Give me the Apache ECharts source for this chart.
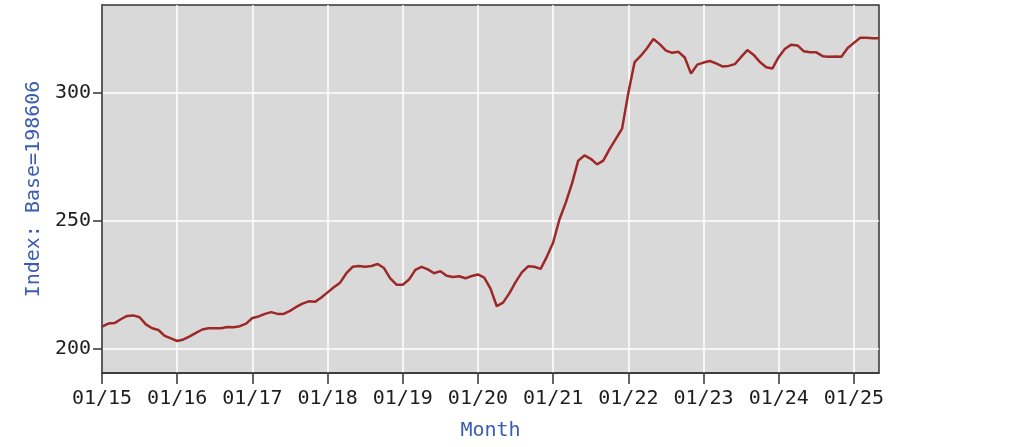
<!DOCTYPE html>
<html>
<head>
<meta charset="utf-8">
<script src="https://cdn.jsdelivr.net/npm/echarts@6/dist/echarts.min.js"></script>
<style>
  html, body { margin: 0; padding: 0; background: #fff; }
  #chart { width: 1024px; height: 447px; }
</style>
</head>
<body>
<div id="chart"></div>
<script>
// Monthly index values, Jan..Dec per year (2025 ends in May)
var v2015 = [208.6, 209.8, 210.0, 211.5, 212.8, 213.0, 212.3, 209.5, 208.0, 207.3, 205.0, 204.0];
var v2016 = [203.0, 203.6, 204.8, 206.2, 207.5, 208.0, 208.0, 208.0, 208.5, 208.4, 208.8, 209.8];
var v2017 = [212.0, 212.6, 213.6, 214.3, 213.6, 213.6, 214.8, 216.3, 217.6, 218.5, 218.3, 220.0];
var v2018 = [222.0, 224.0, 225.8, 229.5, 232.0, 232.3, 232.0, 232.3, 233.1, 231.5, 227.5, 225.0];
var v2019 = [225.0, 227.0, 230.8, 232.0, 231.0, 229.5, 230.3, 228.5, 228.0, 228.3, 227.5, 228.4];
var v2020 = [229.0, 227.8, 223.5, 216.6, 218.0, 221.6, 226.0, 229.8, 232.2, 232.0, 231.2, 236.0];
var v2021 = [241.5, 250.5, 257.0, 264.5, 273.5, 275.5, 274.2, 272.0, 273.5, 278.0, 282.0, 286.0];
var v2022 = [300.0, 312.0, 314.5, 317.5, 321.0, 319.0, 316.5, 315.6, 316.0, 313.8, 307.5, 311.0];
var v2023 = [311.8, 312.4, 311.5, 310.3, 310.5, 311.2, 314.0, 316.7, 314.8, 312.0, 310.0, 309.5];
var v2024 = [314.0, 317.2, 318.8, 318.5, 316.2, 315.8, 315.8, 314.3, 314.1, 314.2, 314.1, 317.5];
var v2025 = [319.5, 321.5, 321.5, 321.3, 321.3];

var yTicks = [200, 250, 300];
var firstYear = 2015;

var values = [].concat(v2015, v2016, v2017, v2018, v2019, v2020, v2021, v2022, v2023, v2024, v2025);

// month labels "MM/YY"
var months = [];
for (var i = 0; i < values.length; i++) {
  var mm = (i % 12) + 1;
  var yy = (firstYear + Math.floor(i / 12)) % 100;
  months.push((mm < 10 ? '0' : '') + mm + '/' + (yy < 10 ? '0' : '') + yy);
}

function yearStart(index) {
  return index % 12 === 0;
}

var mono = 'DejaVu Sans Mono';

var chart = echarts.init(document.getElementById('chart'), null, { renderer: 'canvas' });

var option = {
  animation: false,
  grid: {
    left: 102,
    right: 145,
    top: 5,
    bottom: 74,
    show: true,
    backgroundColor: '#d9d9d9',
    borderColor: '#333',
    borderWidth: 1.5
  },
  xAxis: {
    type: 'category',
    data: months,
    boundaryGap: false,
    name: 'Month',
    nameLocation: 'middle',
    nameGap: 48,
    nameTextStyle: { fontFamily: mono, fontSize: 20, color: '#3a5db0' },
    axisLine: { lineStyle: { color: '#333', width: 1.5 } },
    axisTick: { show: true, interval: yearStart, length: 11, lineStyle: { color: '#333', width: 1.5 } },
    axisLabel: {
      interval: yearStart,
      fontFamily: mono,
      fontSize: 20,
      color: '#1e1e1e',
      margin: 16
    },
    splitLine: { show: true, interval: yearStart, lineStyle: { color: '#ffffff', width: 1.5 } }
  },
  yAxis: {
    type: 'value',
    min: 190.5,
    max: 334.3,
    name: 'Index: Base=198606',
    nameLocation: 'middle',
    nameGap: 54,
    nameTextStyle: { fontFamily: mono, fontSize: 20, color: '#3a5db0' },
    axisLine: { show: true, lineStyle: { color: '#333', width: 1.5 } },
    axisTick: { show: true, customValues: yTicks, length: 9, lineStyle: { color: '#333', width: 1.5 } },
    axisLabel: {
      customValues: yTicks,
      fontFamily: mono,
      fontSize: 20,
      color: '#1e1e1e',
      margin: 11
    },
    splitLine: { show: true, lineStyle: { color: '#ffffff', width: 1.5 } }
  },
  series: [{
    type: 'line',
    data: values,
    symbol: 'none',
    lineStyle: { color: '#9e2828', width: 2.5 },
    itemStyle: { color: '#9e2828' }
  }]
};

chart.setOption(option);
window.addEventListener('resize', chart.resize);
</script>
</body>
</html>
